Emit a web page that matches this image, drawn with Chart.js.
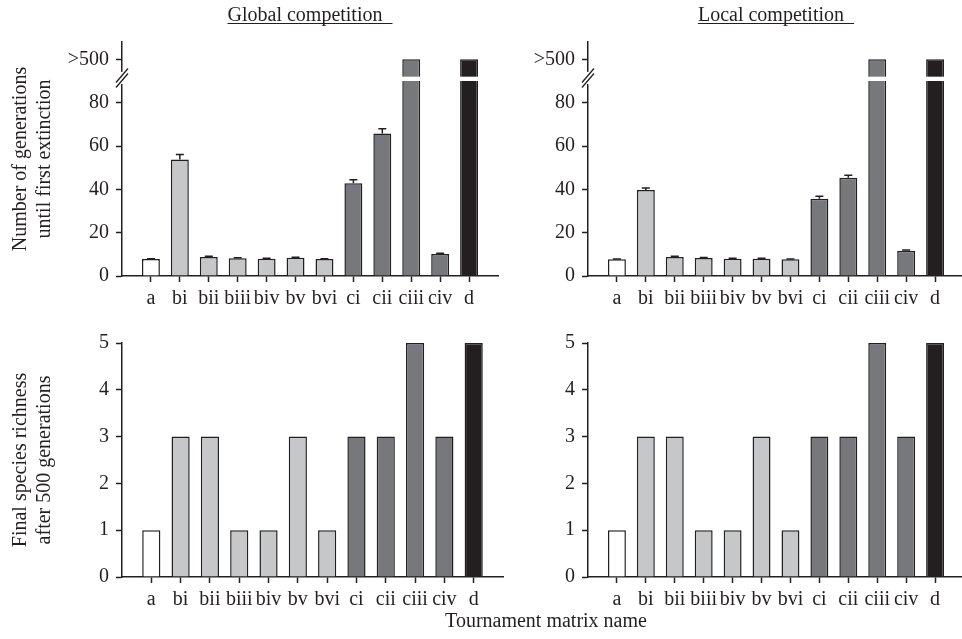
<!DOCTYPE html>
<html>
<head>
<meta charset="utf-8">
<title>Generations until first extinction and final species richness</title>
<script src="https://cdn.jsdelivr.net/npm/chart.js@4.4.1/dist/chart.umd.min.js"></script>
<style>
    html, body { margin: 0; padding: 0; width: 962px; height: 639px; overflow: hidden; background: #fff; }
    canvas { position: absolute; }
</style>
</head>
<body>
<canvas id="globalGen" width="503" height="320" style="left:0;top:0"></canvas>
<canvas id="localGen" width="503" height="320" style="left:466px;top:0"></canvas>
<canvas id="globalRich" width="700" height="319" style="left:0;top:320px"></canvas>
<canvas id="localRich" width="503" height="319" style="left:466px;top:320px"></canvas>
<script>
// ============================================================================
// Data
// ============================================================================

const categories = ['a', 'bi', 'bii', 'biii', 'biv', 'bv', 'bvi', 'ci', 'cii', 'ciii', 'civ', 'd'];
const groups     = ['a', 'b', 'b', 'b', 'b', 'b', 'b', 'c', 'c', 'c', 'c', 'd'];

// top row: 100 on the axis stands for ">500" (above the axis break)
const globalGenerations = [7.8, 53.8, 8.8, 8.2, 8.0, 8.4, 7.8, 42.8, 65.8, 100, 10.2, 100];
const globalGenErrors   = [0.2, 2.3, 0.3, 0.2, 0.2, 0.3, 0.2, 1.6, 2.2, 0, 0.3, 0];
const localGenerations  = [7.7, 39.7, 8.8, 8.3, 8.0, 8.0, 7.7, 35.6, 45.4, 100, 11.7, 100];
const localGenErrors    = [0.2, 0.9, 0.3, 0.2, 0.2, 0.2, 0.2, 1.2, 1.1, 0, 0.3, 0];

// bottom row
const globalRichness = [1, 3, 3, 1, 1, 3, 1, 3, 3, 5, 3, 5];
const localRichness  = [1, 3, 3, 1, 1, 3, 1, 3, 3, 5, 3, 5];

const genTicks      = [0, 20, 40, 60, 80, 100];
const genTickLabels = ['0', '20', '40', '60', '80', '>500'];
const richTicks     = [0, 1, 2, 3, 4, 5];

// ============================================================================
// Style
// ============================================================================

const INK = '#231f20';
const FONT = "'Liberation Serif', 'DejaVu Serif', serif";
const groupColors = { a: '#ffffff', b: '#c6c7c9', c: '#77787c', d: '#231f20' };

const BAR_GAP = [90, 92];      // white cut through bars above the break
const AXIS_GAP = [88.6, 94.2]; // cut in the y axis line

Chart.defaults.font.family = FONT;
Chart.defaults.font.size = 20;
Chart.defaults.color = INK;

// empty slot on each side of the category axis
const paddedLabels = ['', ...categories, ''];
const pad = arr => [null, ...arr, null];

// ============================================================================
// Plugins
// ============================================================================

const errorBars = {
    id: 'errorBars',
    afterDatasetsDraw(chart, args, opts) {
        if (!opts.values) return;
        const meta = chart.getDatasetMeta(0);
        const data = chart.data.datasets[0].data;
        const y = chart.scales.y;
        const c = chart.ctx;
        c.save();
        c.strokeStyle = INK;
        c.lineWidth = 1.5;
        meta.data.forEach((bar, i) => {
            const e = opts.values[i - 1];
            if (data[i] == null || !e) return;
            const top = y.getPixelForValue(data[i] + e);
            c.beginPath();
            c.moveTo(bar.x, bar.y);
            c.lineTo(bar.x, top);
            c.moveTo(bar.x - 4, top);
            c.lineTo(bar.x + 4, top);
            c.stroke();
        });
        c.restore();
    }
};

const axisBreak = {
    id: 'axisBreak',
    afterDraw(chart, args, opts) {
        if (!opts.enabled) return;
        const y = chart.scales.y;
        const c = chart.ctx;
        const ax = chart.chartArea.left;
        const meta = chart.getDatasetMeta(0);
        const data = chart.data.datasets[0].data;
        const g0 = y.getPixelForValue(BAR_GAP[0]);
        const g1 = y.getPixelForValue(BAR_GAP[1]);
        c.save();
        c.fillStyle = '#ffffff';
        meta.data.forEach((bar, i) => {
            if (data[i] != null && data[i] > BAR_GAP[1]) {
                c.fillRect(bar.x - bar.width / 2 - 1, g1, bar.width + 2, g0 - g1);
            }
        });
        const a0 = y.getPixelForValue(AXIS_GAP[0]);
        const a1 = y.getPixelForValue(AXIS_GAP[1]);
        c.fillRect(ax - 2, a1, 4, a0 - a1);
        const mid = (a0 + a1) / 2;
        c.strokeStyle = INK;
        c.lineWidth = 1.3;
        [-2.5, 2.5].forEach(d => {
            c.beginPath();
            c.moveTo(ax - 6, mid + d + 7);
            c.lineTo(ax + 6, mid + d - 7);
            c.stroke();
        });
        c.restore();
    }
};

const panelTitle = {
    id: 'panelTitle',
    afterDraw(chart, args, opts) {
        if (!opts.text) return;
        const c = chart.ctx;
        const { left, right } = chart.chartArea;
        c.save();
        c.font = '20px ' + FONT;
        const w = c.measureText(opts.text).width + 10;
        const x0 = (left + right) / 2 - w / 2;
        c.fillStyle = INK;
        c.textAlign = 'left';
        c.textBaseline = 'alphabetic';
        c.fillText(opts.text, x0, 21);
        c.strokeStyle = INK;
        c.lineWidth = 1;
        c.beginPath();
        c.moveTo(x0, 23.5);
        c.lineTo(x0 + w, 23.5);
        c.stroke();
        c.restore();
    }
};

const figureLabel = {
    id: 'figureLabel',
    afterDraw(chart, args, opts) {
        if (!opts.text) return;
        const c = chart.ctx;
        c.save();
        c.font = '20px ' + FONT;
        c.fillStyle = INK;
        c.textAlign = 'center';
        c.textBaseline = 'alphabetic';
        c.fillText(opts.text, opts.x, opts.y);
        c.restore();
    }
};

// ============================================================================
// Chart factory
// ============================================================================

function makeChart(id, cfg) {
    const colors = pad(groups.map(g => groupColors[g]));
    const hideEnds = ctx => (ctx.index === 0 || ctx.index === paddedLabels.length - 1) ? 'rgba(0,0,0,0)' : INK;

    return new Chart(document.getElementById(id), {
        type: 'bar',
        data: {
            labels: paddedLabels,
            datasets: [{
                data: pad(cfg.values),
                backgroundColor: colors,
                borderColor: INK,
                borderWidth: 1.5,
                borderSkipped: 'start',
                categoryPercentage: 1,
                barPercentage: 0.62
            }]
        },
        options: {
            responsive: false,
            animation: false,
            devicePixelRatio: 1,
            layout: { padding: cfg.padding },
            plugins: {
                legend: { display: false },
                tooltip: { enabled: false },
                errorBars: { values: cfg.errors },
                axisBreak: { enabled: !!cfg.broken },
                panelTitle: { text: cfg.title },
                figureLabel: cfg.figureLabel || {}
            },
            scales: {
                x: {
                    type: 'category',
                    offset: false,
                    grid: {
                        offset: false,
                        drawOnChartArea: false,
                        tickLength: 6,
                        tickWidth: 1.5,
                        color: hideEnds,
                        tickColor: hideEnds
                    },
                    border: { color: INK, width: 1.5 },
                    ticks: { autoSkip: false, maxRotation: 0, padding: 5, color: INK },
                    afterFit: s => { s.height = cfg.xHeight; }
                },
                y: {
                    min: 0,
                    max: cfg.max,
                    afterBuildTicks: s => { s.ticks = cfg.ticks.map(v => ({ value: v })); },
                    grid: { drawOnChartArea: false, tickLength: 6, tickWidth: 1.5, color: INK },
                    border: { color: INK, width: 1.5 },
                    ticks: {
                        padding: 7,
                        color: INK,
                        callback: v => cfg.tickLabels ? cfg.tickLabels[cfg.ticks.indexOf(v)] : String(v)
                    },
                    title: {
                        display: !!cfg.yTitle,
                        text: cfg.yTitle || '',
                        color: INK,
                        font: { size: 20, lineHeight: 1.2 },
                        padding: { top: 9, bottom: 0 }
                    },
                    afterFit: s => { s.width = 122; }
                }
            }
        },
        plugins: [errorBars, axisBreak, panelTitle, figureLabel]
    });
}

// ============================================================================
// Build
// ============================================================================

const topPadding = { top: 42, bottom: 0, left: 0, right: 0 };
const bottomPadding = { top: 23, bottom: 0, left: 0, right: 0 };

makeChart('globalGen', {
    values: globalGenerations, errors: globalGenErrors, broken: true,
    max: 108, ticks: genTicks, tickLabels: genTickLabels,
    yTitle: ['Number of generations', 'until first extinction'],
    title: 'Global competition', padding: topPadding, xHeight: 44
});

makeChart('localGen', {
    values: localGenerations, errors: localGenErrors, broken: true,
    max: 108, ticks: genTicks, tickLabels: genTickLabels,
    title: 'Local competition', padding: topPadding, xHeight: 44
});

makeChart('globalRich', {
    values: globalRichness, max: 5, ticks: richTicks,
    yTitle: ['Final species richness', 'after 500 generations'],
    padding: { top: 23, bottom: 0, left: 0, right: 197 }, xHeight: 62,
    figureLabel: { text: 'Tournament matrix name', x: 546, y: 307 }
});

makeChart('localRich', {
    values: localRichness, max: 5, ticks: richTicks,
    padding: bottomPadding, xHeight: 62
});
</script>
</body>
</html>
